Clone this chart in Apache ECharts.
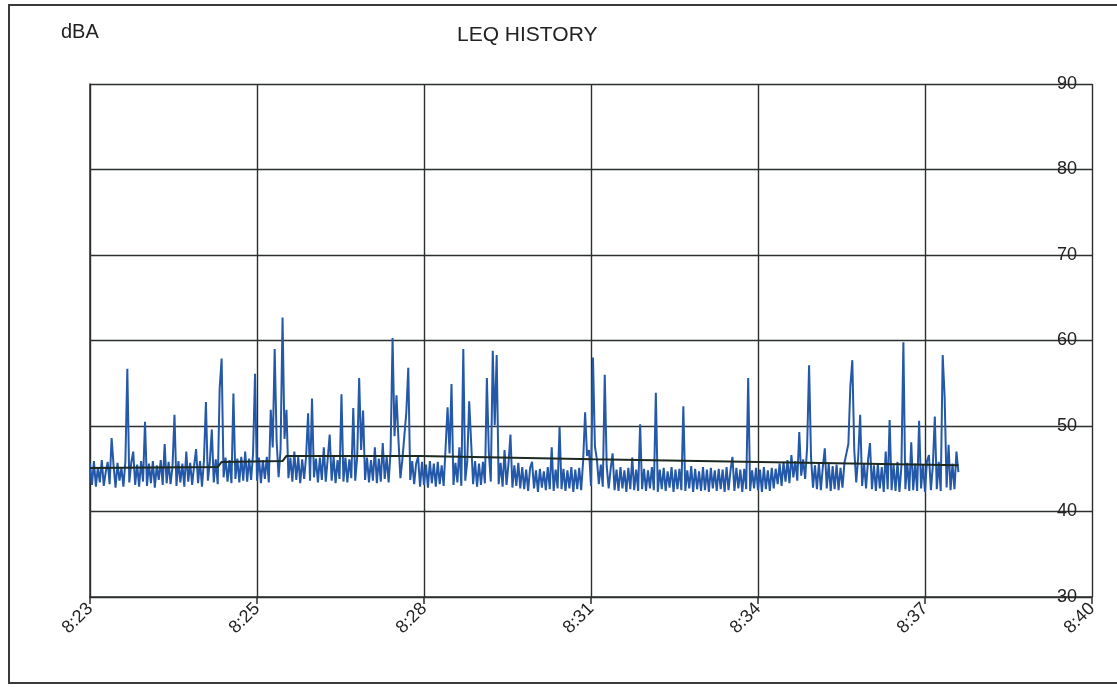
<!DOCTYPE html>
<html>
<head>
<meta charset="utf-8">
<script src="https://cdn.jsdelivr.net/npm/echarts@6/dist/echarts.min.js"></script>
<style>
  html, body { margin: 0; padding: 0; background: #fff; }
  #leq_history { width: 1117px; height: 687px; }
</style>
</head>
<body>
<div id="leq_history"></div>
<script>
// start of the record, 8:23:00, in seconds of the day
var startSec = 8 * 3600 + 23 * 60;
// one reading every 2 seconds
var leqStep = 2;
var leqValues = [
    45.6,43.1,45.9,42.9,45.2,43.4,46.0,43.0,44.6,45.8,43.2,48.6,45.4,42.8,45.7,43.6,45.1,42.9,45.8,56.7,
    43.4,45.7,47.0,43.1,45.5,42.9,45.9,43.5,50.5,43.0,45.6,43.3,45.9,42.8,45.4,43.7,46.0,43.1,47.9,43.3,
    45.8,43.2,45.3,51.3,43.0,45.9,43.4,45.6,42.9,47.0,43.5,45.7,43.1,45.4,47.3,43.3,45.9,42.9,46.0,52.8,
    43.6,45.8,49.6,43.4,46.1,43.2,54.4,57.9,44.0,46.3,43.5,46.0,43.3,53.8,43.8,46.2,43.4,46.4,43.6,47.0,
    43.5,46.2,43.7,46.8,56.1,43.6,46.3,43.3,46.0,43.8,46.4,43.4,51.9,47.5,59.0,48.2,44.0,47.3,62.7,48.5,
    51.9,43.9,46.3,43.5,47.0,43.7,46.4,43.3,46.1,43.8,46.5,51.5,43.6,53.2,44.0,46.2,43.4,46.3,43.7,47.5,
    43.5,46.2,49.0,43.6,46.4,43.3,46.0,43.8,53.7,43.5,46.3,43.4,46.1,43.9,52.1,43.6,46.4,55.6,47.2,51.8,
    43.7,46.3,43.4,46.0,43.6,47.5,43.3,46.2,43.5,48.0,43.8,46.4,43.4,47.1,60.3,48.8,53.6,48.4,43.9,46.1,
    46.2,51.6,56.8,43.7,45.9,43.2,45.6,46.4,42.9,45.8,43.1,45.5,42.8,45.9,43.3,45.6,42.9,45.8,43.2,45.4,
    43.0,47.5,52.2,46.8,54.9,43.1,45.7,43.4,47.5,43.0,59.0,43.6,45.8,52.9,53.0,43.2,45.9,42.9,45.6,43.1,
    45.8,43.3,55.6,46.9,43.5,58.8,50.1,58.3,43.2,45.7,42.9,47.2,43.1,45.6,49.0,42.8,45.4,43.0,45.7,42.7,
    45.2,42.6,44.9,42.4,45.1,45.8,42.7,44.8,42.3,45.0,42.8,44.7,42.5,45.2,42.6,47.5,42.4,44.9,42.7,49.9,
    42.6,45.0,42.4,44.8,42.7,45.2,42.3,44.9,42.6,45.1,42.5,45.9,51.6,46.5,47.2,43.0,58.0,47.6,46.1,43.2,
    45.5,42.9,56.0,45.3,42.7,45.0,46.8,42.5,44.9,42.4,45.2,42.7,44.8,42.3,45.1,42.6,46.3,42.5,44.9,42.4,
    50.2,42.6,45.0,42.4,44.8,42.7,45.2,42.5,53.9,42.3,44.9,42.6,45.1,42.4,44.7,42.8,45.2,42.3,44.9,42.6,
    45.0,42.5,52.3,42.4,44.8,42.7,45.3,42.3,45.0,42.6,44.7,42.4,45.2,42.5,44.9,42.3,45.1,42.7,44.8,42.4,
    45.0,42.6,44.9,42.3,45.2,42.5,44.8,46.4,42.4,45.1,42.7,44.9,42.3,45.0,42.6,55.6,42.4,44.8,42.7,45.1,
    42.5,44.9,42.3,45.2,42.6,44.8,42.4,45.1,42.7,45.0,43.2,45.6,43.0,45.8,43.5,46.0,43.3,46.6,44.0,45.9,
    43.6,49.3,44.2,46.1,43.8,47.5,57.1,46.3,42.8,45.4,42.6,45.7,42.5,45.2,47.4,42.7,45.6,42.4,45.3,42.6,
    45.5,42.5,45.1,42.8,45.7,46.8,47.9,54.6,57.7,47.2,43.4,46.4,51.3,43.0,45.6,42.7,46.0,48.0,42.6,45.4,
    42.4,45.6,42.7,45.2,42.3,47.0,42.6,50.7,42.5,45.5,42.4,45.8,42.3,45.3,59.8,42.6,45.7,42.4,48.1,42.5,
    45.6,42.4,50.6,42.7,45.5,42.3,45.9,46.6,42.5,45.4,51.1,42.6,45.8,42.4,58.3,53.4,42.8,47.8,42.5,45.6,
    42.6,47.0,44.6
];

// running average line, seconds after 8:23:00
var avgSeconds = [0, 130, 134, 196, 200, 336, 512, 681, 884];
var avgValues  = [45.1, 45.2, 45.8, 45.9, 46.5, 46.5, 46.1, 45.8, 45.4];

var yTicks = [30, 40, 50, 60, 70, 80, 90];

var leqData = leqValues.map(function (v, i) { return [i * leqStep, v]; });
var avgData = avgSeconds.map(function (s, i) { return [s, avgValues[i]]; });

function clockLabel(v) {
    var t = startSec + v;
    var h = Math.floor(t / 3600);
    var m = Math.floor((t % 3600) / 60);
    return h + ':' + (m < 10 ? '0' + m : m);
}

var lineColor = '#2b2f2d';
var textFont = '"Liberation Sans", Arial, sans-serif';

var leq_history = {
    backgroundColor: '#fff',
    animation: false,
    title: [
        {text: 'LEQ HISTORY', left: 452, top: 20, textStyle: {fontFamily: textFont, fontSize: 21, fontWeight: 'normal', color: '#222'}},
        {text: 'dBA', left: 56, top: 17, textStyle: {fontFamily: textFont, fontSize: 20, fontWeight: 'normal', color: '#222'}}
    ],
    graphic: [
        {type: 'rect', shape: {x: 9, y: 5, width: 1130, height: 678}, style: {fill: 'none', stroke: '#3a3a3a', lineWidth: 2}, silent: true}
    ],
    grid: {left: 90, right: 25, top: 84, bottom: 90},
    xAxis: {
        type: 'value',
        min: 0,
        max: 1020,
        interval: 170,
        axisLine: {show: true, lineStyle: {color: lineColor, width: 1.5}},
        axisTick: {show: true, length: 7, lineStyle: {color: lineColor, width: 1.5}},
        splitLine: {show: true, lineStyle: {color: lineColor, width: 1.4}},
        axisLabel: {
            rotate: 45,
            margin: 9,
            fontFamily: textFont,
            fontSize: 18,
            color: '#222',
            formatter: clockLabel
        }
    },
    yAxis: {
        type: 'value',
        position: 'right',
        min: yTicks[0],
        max: yTicks[yTicks.length - 1],
        interval: 10,
        axisLine: {show: true, lineStyle: {color: lineColor, width: 1.5}},
        axisTick: {show: false},
        splitLine: {show: true, lineStyle: {color: lineColor, width: 1.4}},
        axisLabel: {inside: true, margin: 15, fontFamily: textFont, fontSize: 18, color: '#222'}
    },
    series: [
        {
            name: 'LEQ',
            type: 'line',
            data: leqData,
            showSymbol: false,
            lineStyle: {color: '#2458a8', width: 2},
            z: 2
        },
        {
            name: 'AVG',
            type: 'line',
            data: avgData,
            showSymbol: false,
            lineStyle: {color: '#1d2a22', width: 2},
            z: 3
        }
    ]
};

echarts.init(document.getElementById('leq_history')).setOption(leq_history);
</script>
</body>
</html>
